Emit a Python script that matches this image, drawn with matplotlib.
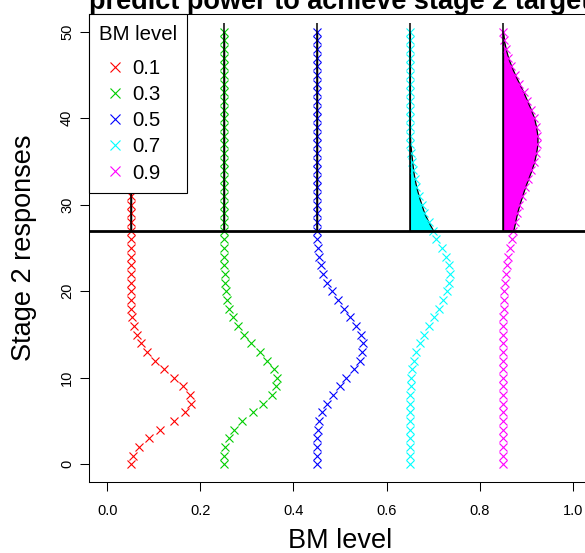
import matplotlib
matplotlib.use("Agg")
import matplotlib.pyplot as plt

plt.rcParams['font.family'] = ['Liberation Sans', 'DejaVu Sans']

# stage 2 responses (y axis) and BM levels
responses = list(range(51))
bm_levels = [0.1, 0.3, 0.5, 0.7, 0.9]
level_labels = ['0.1', '0.3', '0.5', '0.7', '0.9']
colors = ['#FF0000', '#00CD00', '#0000FF', '#00FFFF', '#FF00FF']
target = 27

# predictive density of stage 2 responses, drawn sideways from each level
dens_01 = [0.001, 0.006, 0.018, 0.039, 0.064, 0.094, 0.118, 0.129, 0.127, 0.113,
           0.094, 0.071, 0.052, 0.036, 0.022, 0.013, 0.008, 0.004, 0.002, 0.001] + [0.0] * 31
dens_03 = [0.0, 0.001, 0.003, 0.011, 0.023, 0.040, 0.062, 0.085, 0.103, 0.112,
           0.115, 0.108, 0.094, 0.077, 0.059, 0.044, 0.030, 0.021, 0.012, 0.008,
           0.004, 0.003, 0.002, 0.001, 0.001] + [0.0] * 26
dens_05 = [0.0, 0.0, 0.0, 0.001, 0.003, 0.005, 0.012, 0.021, 0.034, 0.049,
           0.063, 0.080, 0.092, 0.097, 0.099, 0.094, 0.085, 0.072, 0.058, 0.045,
           0.033, 0.022, 0.014, 0.008, 0.004, 0.002, 0.001] + [0.0] * 24
dens_07 = [0.0] * 7 + [0.001, 0.001, 0.002, 0.003, 0.005, 0.009, 0.014, 0.021, 0.031,
           0.042, 0.052, 0.063, 0.072, 0.080, 0.084, 0.086, 0.084, 0.078, 0.068,
           0.057, 0.050, 0.040, 0.031, 0.025, 0.019, 0.014, 0.010, 0.007, 0.005,
           0.003, 0.001] + [0.0] * 13
dens_09 = [0.0] * 14 + [0.001, 0.001, 0.001, 0.001, 0.002, 0.002, 0.003, 0.004, 0.006,
           0.008, 0.011, 0.015, 0.019, 0.022, 0.026, 0.030, 0.035, 0.041, 0.047,
           0.054, 0.061, 0.067, 0.071, 0.074, 0.074, 0.071, 0.067, 0.060, 0.052,
           0.044, 0.035, 0.026, 0.018, 0.011, 0.006, 0.002, 0.0]
densities = [dens_01, dens_03, dens_05, dens_07, dens_09]

fig = plt.figure(figsize=(5.85, 5.53), dpi=100)
ax = fig.add_axes([0.1515, 0.1291, 0.8596, 0.8447])

for lev, lab, col, dens in zip(bm_levels, level_labels, colors, densities):
    x0 = lev - 0.05
    xs = [x0 + d for d in dens]
    ax.plot(xs, responses, linestyle='none', marker='x', ms=5.8, mew=0.8,
            color=col, label=lab)
    # area above the target
    ax.fill_betweenx(responses[target:], x0, xs[target:], facecolor=col,
                     edgecolor='black', linewidth=0.9)
    ax.vlines(x0, target, 51, color='black', linewidth=1.1)

ax.axhline(target, color='black', linewidth=2)

ax.set_xlim(-0.04, 1.04)
ax.set_ylim(-2, 52)
ax.set_xticks([0.0, 0.2, 0.4, 0.6, 0.8, 1.0])
ax.set_xticklabels(['0.0', '0.2', '0.4', '0.6', '0.8', '1.0'])
ax.set_yticks([0, 10, 20, 30, 40, 50])
ax.tick_params(axis='both', direction='out', length=6.5, width=0.75, labelsize=10.5)
ax.tick_params(axis='x', pad=9.5)
ax.tick_params(axis='y', pad=4)
plt.setp(ax.get_yticklabels(), rotation=90, va='center')
for sp in ax.spines.values():
    sp.set_linewidth(0.75)

leg = ax.legend(title='BM level', loc='upper left', bbox_to_anchor=(0, 1),
                borderaxespad=0, fontsize=14.7, title_fontsize=14.7,
                fancybox=False, edgecolor='black', framealpha=1,
                handlelength=1.55, handletextpad=0.1, labelspacing=0.35,
                borderpad=0.5, alignment='left', markerscale=1.15)
leg.get_frame().set_linewidth(0.8)
leg._legend_box.sep = 11  # extra gap under the legend title

fig.text(0.581, 1 - 9 / 553, 'predict power to achieve stage 2 target',
         ha='center', va='baseline', fontsize=19.5, fontweight='bold')
fig.text(0.581, 5.4 / 553, 'BM level', ha='center', va='baseline', fontsize=19.5)
fig.text(24 / 585, 0.5515, 'Stage 2 responses', ha='center', va='center',
         rotation=90, fontsize=19.5)

fig.savefig('out.png', dpi=100)
